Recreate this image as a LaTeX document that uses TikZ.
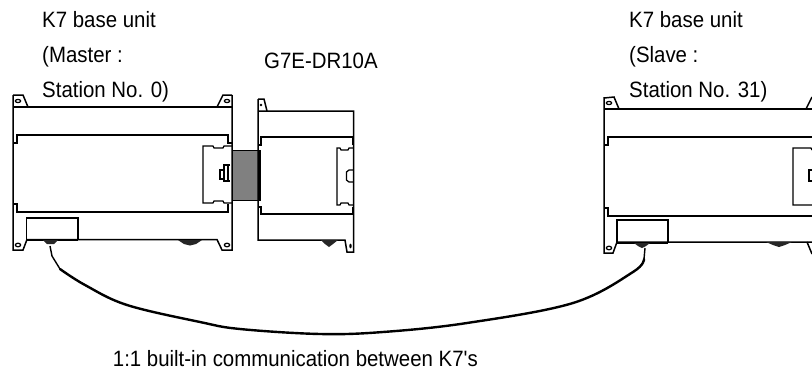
\documentclass[tikz,border=0pt]{standalone}
\usepackage{fontspec}
\newfontfamily\lblfont[FakeStretch=0.92]{Liberation Sans}
\tikzset{
  unitline/.style={draw=black,line width=1.5pt,line join=miter},
  thinline/.style={draw=black,line width=1.25pt},
  lbl/.style={anchor=base west,inner sep=0pt,font=\lblfont\fontsize{22.2}{26}\selectfont,text=black},
  cable/.style={draw=black,line width=2.4pt,line cap=round},
  lead/.style={draw=black,line width=1.4pt,line join=round},
  screw/.style={fill=black!85},
  gblock/.style={fill=black!50,draw=black,line width=1pt}
}
\begin{document}
\begin{tikzpicture}[x=1pt,y=-1pt]
\useasboundingbox (0,0) rectangle (812,373);
% --- gray link block
\path[gblock] (232,150) rectangle (258,200.5);
% --- left unit
\draw[unitline] (13,107) -- (232,107);
\draw[unitline] (13,95) -- (13,250) -- (23,250) -- (27,239.5) -- (217,239.5) -- (222,250) -- (232,250) -- (232,95);
\draw[unitline] (13,95) -- (23,95) -- (28,107);
\draw[unitline] (232,95) -- (223,95) -- (217,107);
\draw[thinline] (13,143) -- (17,143) -- (17,135) -- (228,135) -- (228,143) -- (232,143);
\draw[thinline] (13,204) -- (17,204) -- (17,212) -- (228,212) -- (228,204);
\draw[thinline] (232,146) -- (224,146) -- (223,148) -- (214,148) -- (213,146) -- (203,146) -- (203,203) -- (213,203) -- (214,201) -- (223,201) -- (224,203) -- (232,203);
\draw[thinline] (230,165) -- (224,165) -- (224,181) -- (230,181) (224,170) -- (220,170) -- (220,179) -- (224,179);
\draw[line width=2pt] (228,166) -- (228,180);
\draw[thinline] (26.5,240) -- (26.5,218) -- (78,218) -- (78,240);
\draw[unitline] (26,240) -- (78,240);
\draw[thinline] (18,101) circle[x radius=2.6,y radius=1.6];
\draw[thinline] (227,101) circle[x radius=2.6,y radius=1.6];
\draw[thinline] (18,245) circle[x radius=2.6,y radius=1.8];
\draw[thinline] (227,245) circle[x radius=2.6,y radius=1.8];
\fill[screw] (43,240) -- (58,240) -- (54,244) -- (47,244) -- cycle;
\fill[screw] (178,240) -- (202,240) -- (196,244) -- (190,245.5) -- (184,244) -- cycle;
% --- middle unit
\draw[unitline] (258,99) -- (258,240) -- (345,240) -- (347,252) -- (353.5,252) -- (353.5,111) -- (258,111);
\draw[unitline] (258,99) -- (264,99) -- (267,111);
\draw[thinline] (258,145) -- (261,145) -- (261,137) -- (353.5,137);
\draw[thinline] (258,207) -- (261,207) -- (261,214) -- (353.5,214);
\draw[line width=2pt] (260,150) -- (260,201);
\draw[line width=2pt] (352.5,137) -- (352.5,145) (352.5,207) -- (352.5,214);
\draw[thinline] (353.5,148) -- (349,148) -- (348,150) -- (341,150) -- (340,148) -- (337,148) -- (337,205) -- (340,205) -- (341,203) -- (348,203) -- (349,205) -- (353.5,205);
\draw[thinline] (353.5,170) -- (349,170) -- (346.5,172) -- (346.5,180) -- (349,182) -- (353.5,182);
\fill (261,105) circle[radius=1.4];
\fill (350.5,246) circle[x radius=1.2,y radius=2.4];
\fill[screw] (321,240) -- (338,240) -- (333,244) -- (329,247) -- (325,244) -- cycle;
% --- right unit
\draw[unitline] (604,109) -- (812,109);
\draw[unitline] (604,97) -- (604,253) -- (613,253) -- (617,242) -- (812,242);
\draw[unitline] (604,98) -- (614,97) -- (619,109);
\draw[unitline] (812,97) -- (806,109);
\draw[unitline] (807,242) -- (812,254);
\draw[thinline] (604,145) -- (608,145) -- (608,137) -- (812,137);
\draw[thinline] (604,208) -- (608,208) -- (608,216) -- (812,216);
\draw[thinline] (812,150) -- (811,148) -- (793,148) -- (793,205) -- (812,205);
\draw[thinline] (812,170) -- (809,170) -- (809,181) -- (812,181);
\draw[thinline] (617,243) -- (617,220) -- (668,220) -- (668,243);
\draw[unitline] (617,243) -- (668,243);
\draw[thinline] (609,103) circle[x radius=2.6,y radius=1.6];
\draw[thinline] (609,248) circle[x radius=2.6,y radius=1.8];
\fill[screw] (634,243) -- (650,243) -- (646,246) -- (642,248) -- (638,246) -- cycle;
\fill[screw] (766,242) -- (792,242) -- (785,245) -- (779,247) -- (773,245) -- cycle;
% --- cable
\coordinate (masterport) at (50,246);
\coordinate (slaveport) at (645,248);
\coordinate (masterbend) at (60,269);
\coordinate (slavebend) at (644,259);
\draw[lead] (masterport) -- (52,256) -- (masterbend);
\draw[cable] plot[smooth,tension=0.6] coordinates {(masterbend) (85,285) (127,305) (200,322) (240,329) (320,334) (383,332) (467,323) (573,303) (633,272) (slavebend)};
\draw[lead] (slavebend) -- (slaveport);
% --- labels
\node[lbl] (m1) at (42,27.3) {K7 base unit};
\node[lbl] (m2) at (42,62) {(Master :};
\node[lbl] (m3) at (42,97) {Station No. 0)};
\node[lbl] (mid) at (264,68) {G7E-DR10A};
\node[lbl] (s1) at (629,27.3) {K7 base unit};
\node[lbl] (s2) at (629,62) {(Slave :};
\node[lbl] (s3) at (629,97) {Station No. 31)};
\node[lbl] (cap) at (112.7,366.7) {1:1 built-in communication between K7's};
\end{tikzpicture}
\end{document}
